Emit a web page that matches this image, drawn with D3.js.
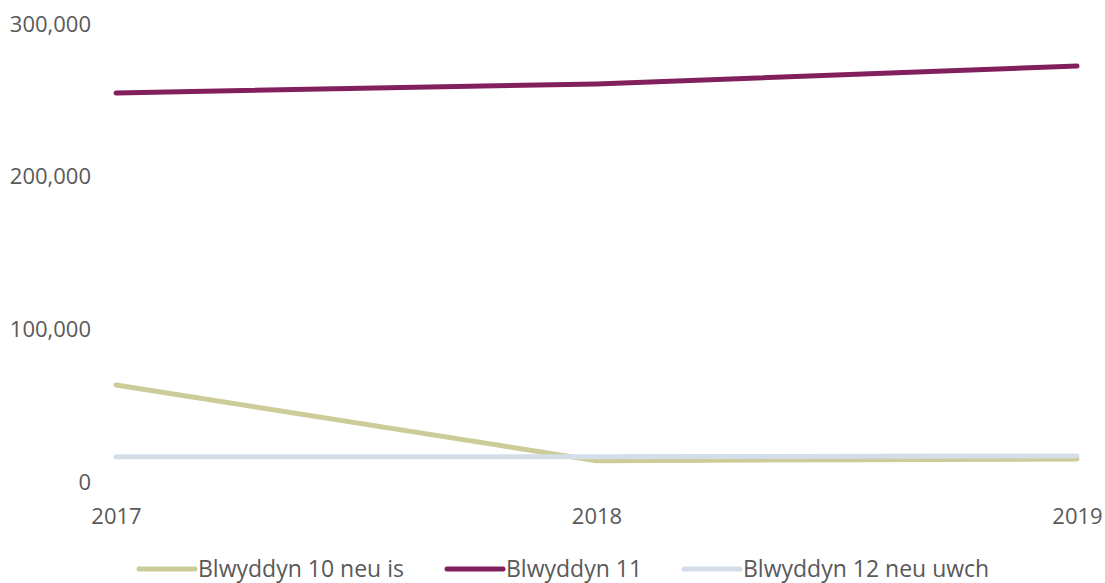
<!DOCTYPE html>
<html>
<head>
<meta charset="utf-8">
<script src="https://cdn.jsdelivr.net/npm/d3@7"></script>
<style>
  html, body { margin: 0; padding: 0; background: #ffffff; }
  svg { display: block; }
  text { font-family: "Open Sans", "Noto Sans", sans-serif; fill: #595959; }
</style>
</head>
<body>
<svg id="chart" width="1105" height="583"></svg>
<script>
const years = ["2017", "2018", "2019"];
const seriesNames = ["Blwyddyn 10 neu is", "Blwyddyn 11", "Blwyddyn 12 neu uwch"];
const year10Values = [63900, 14400, 15500];
const year11Values = [254900, 260800, 272500];
const year12Values = [17000, 17000, 17500];
const yTicks = [0, 100000, 200000, 300000];
const seriesColors = ["#cbcc98", "#82205e", "#d3dee8"];

const series = [
  { name: seriesNames[0], values: year10Values, color: seriesColors[0] },
  { name: seriesNames[1], values: year11Values, color: seriesColors[1] },
  { name: seriesNames[2], values: year12Values, color: seriesColors[2] }
];

const svg = d3.select("#chart");

const x = d3.scalePoint().domain(years).range([116, 1077]);
const y = d3.scaleLinear().domain([0, 300000]).range([482.7, 24]);

const axisFont = "'Open Sans', 'Noto Sans', sans-serif";

// Y axis labels
const yAxis = d3.axisLeft(y).tickValues(yTicks).tickFormat(d3.format(",")).tickSize(0).tickPadding(0);
const yg = svg.append("g").attr("transform", "translate(91,0)").call(yAxis);
yg.select(".domain").remove();
yg.selectAll("text").style("font-size", "22px").attr("fill", "#595959").style("font-family", axisFont);

// X axis labels
const xAxis = d3.axisBottom(x).tickSize(0).tickPadding(0);
const xg = svg.append("g").attr("transform", "translate(0,508)").call(xAxis);
xg.select(".domain").remove();
xg.selectAll("text").style("font-size", "22px").attr("fill", "#595959").style("font-family", axisFont);

// Lines
const line = d3.line().x((d, i) => x(years[i])).y(d => y(d));
svg.append("g").selectAll("path").data(series).join("path")
  .attr("d", d => line(d.values))
  .attr("fill", "none")
  .attr("stroke", d => d.color)
  .attr("stroke-width", 5)
  .attr("stroke-linejoin", "round")
  .attr("stroke-linecap", "round");

// Legend
const legendX = [139, 447, 684];
const lg = svg.append("g").selectAll("g").data(series).join("g")
  .attr("transform", (d, i) => `translate(${legendX[i]},569)`);
lg.append("line").attr("x1", 0).attr("x2", 56).attr("y1", 0).attr("y2", 0)
  .attr("stroke", d => d.color).attr("stroke-width", 5).attr("stroke-linecap", "round");
lg.append("text").attr("x", 59).attr("y", 7.5)
  .style("font-size", "23px").text(d => d.name);
</script>
</body>
</html>
